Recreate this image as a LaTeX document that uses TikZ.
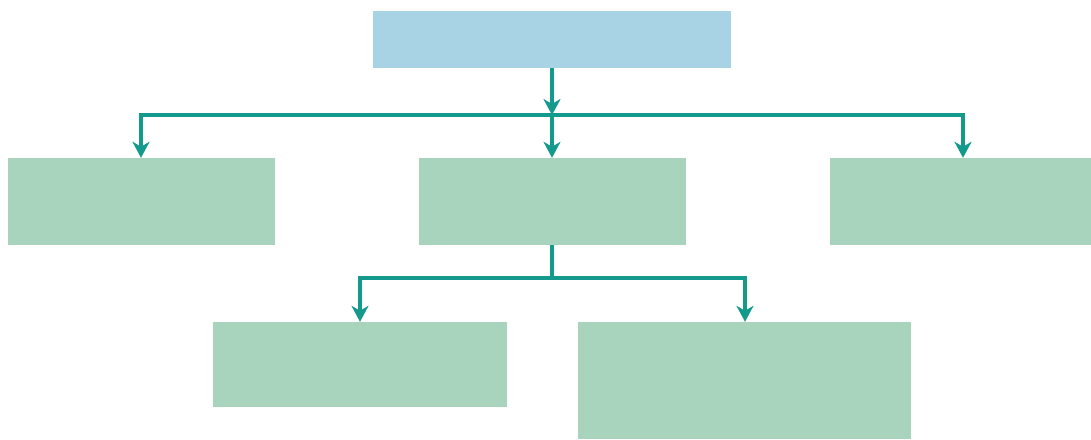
\documentclass[tikz,border=0pt]{standalone}
\usetikzlibrary{arrows.meta}
\definecolor{boxblue}{HTML}{A8D3E5}
\definecolor{boxgreen}{HTML}{A8D3BD}
\definecolor{linkteal}{HTML}{139A8C}
\tikzset{
  bluebox/.style={rectangle, fill=boxblue, draw=none, inner sep=0pt},
  greenbox/.style={rectangle, fill=boxgreen, draw=none, inner sep=0pt},
  link/.style={draw=linkteal, line width=3.5pt},
  linkarrow/.style={link, -{Stealth[length=16pt,width=17pt,inset=5pt]}}
}
\begin{document}
\begin{tikzpicture}[x=1pt,y=-1pt]
\useasboundingbox (0,0) rectangle (1091,439);
\node[bluebox, minimum width=358pt, minimum height=57pt] (top) at (552,39.5) {};
\node[greenbox, minimum width=267pt, minimum height=87pt] (a) at (141.5,201.5) {};
\node[greenbox, minimum width=267pt, minimum height=87pt] (b) at (552.5,201.5) {};
\node[greenbox, minimum width=261pt, minimum height=87pt] (c) at (960.5,201.5) {};
\node[greenbox, minimum width=294pt, minimum height=85pt] (d) at (360,364.5) {};
\node[greenbox, minimum width=333pt, minimum height=117pt] (e) at (744.5,380.5) {};
\coordinate (busmid) at (552,115);
\coordinate (busl) at (141,115);
\coordinate (busr) at (963,115);
\coordinate (bus2) at (552,278);
\coordinate (bus2l) at (360,278);
\coordinate (bus2r) at (745,278);
\draw[linkarrow] (top.south -| busmid) -- (busmid);
\draw[link, line cap=rect] (busl) -- (busr);
\draw[linkarrow] (busl) -- (busl |- a.north);
\draw[linkarrow] (busmid) -- (busmid |- b.north);
\draw[linkarrow] (busr) -- (busr |- c.north);
\draw[link] (b.south -| bus2) -- (bus2);
\draw[link, line cap=rect] (bus2l) -- (bus2r);
\draw[linkarrow] (bus2l) -- (bus2l |- d.north);
\draw[linkarrow] (bus2r) -- (bus2r |- e.north);
\end{tikzpicture}
\end{document}
